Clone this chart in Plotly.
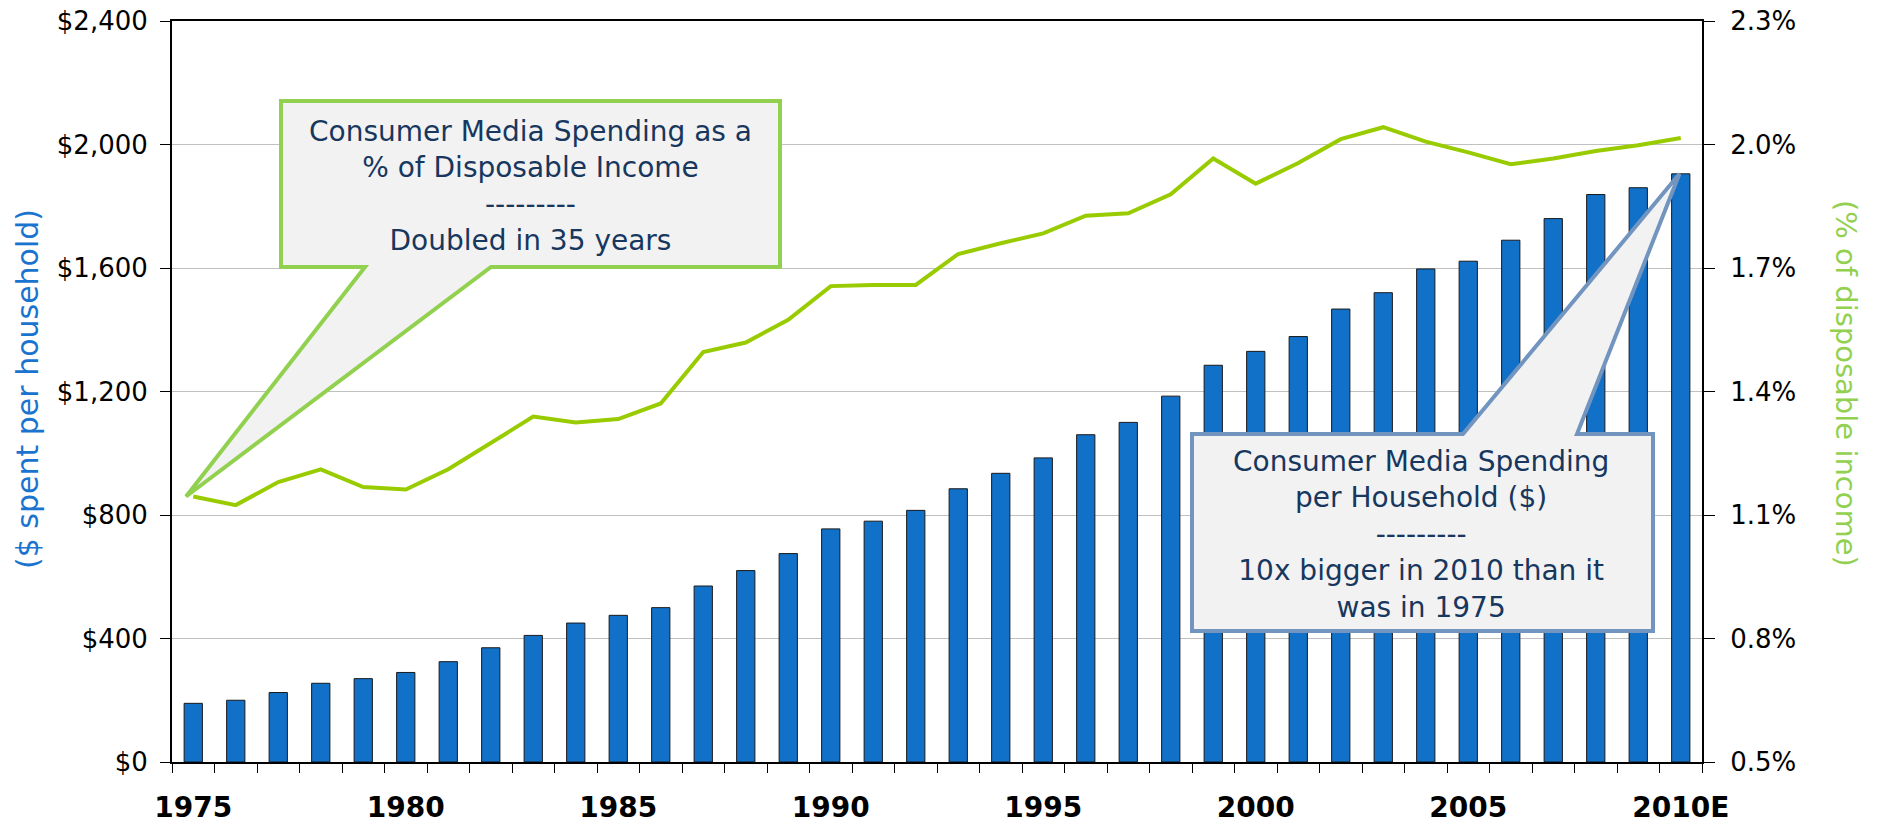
import plotly.graph_objects as go

# ---------------- data ----------------
YEARS = list(range(1975, 2011))
SPEND = [190, 200, 225, 255, 270, 290, 325, 370, 410, 450,
         475, 500, 570, 620, 675, 755, 780, 815, 885, 935,
         985, 1060, 1100, 1185, 1285, 1330, 1378, 1467, 1520, 1597,
         1622, 1690, 1760, 1838, 1860, 1905]
PCT = [1.145, 1.124, 1.180, 1.211, 1.168, 1.162, 1.211, 1.275, 1.339, 1.325,
       1.333, 1.371, 1.496, 1.519, 1.574, 1.656, 1.659, 1.659, 1.734, 1.760,
       1.784, 1.827, 1.833, 1.879, 1.966, 1.905, 1.955, 2.013, 2.042, 2.007,
       1.981, 1.952, 1.966, 1.984, 1.998, 2.016]
TICK_YEARS = [1975, 1980, 1985, 1990, 1995, 2000, 2005, 2010]
TICK_TEXT = ["1975", "1980", "1985", "1990", "1995", "2000", "2005", "2010E"]

GREEN_TEXT = "Consumer Media Spending as a<br>% of Disposable Income<br>---------<br>Doubled in 35 years"
BLUE_TEXT = ("Consumer Media Spending<br>per Household ($)<br>---------<br>"
             "10x bigger in 2010 than it<br>was in 1975")

# ---------------- geometry ----------------
W, H = 1877, 823
L, R, T, B = 172, 1702, 21, 762
PW, PH = R - L, B - T
Y1 = (0, 2400)
Y2 = (0.5, 2.3)
XR = (1974.5, 2010.5)

def px_x(px):
    return (px - L) / PW

def px_y(py):
    return (B - py) / PH

def yr(px):
    return XR[0] + (px - L) / PW * (XR[1] - XR[0])

def dol(py):
    return (B - py) / PH * (Y1[1] - Y1[0])

def pct_to_dol(p):
    return (p - Y2[0]) / (Y2[1] - Y2[0]) * (Y1[1] - Y1[0])

FONT = "DejaVu Sans"
NAVY = "#17375E"
FILL = "#F2F2F2"
GREEN_BORDER = "#92D050"
BLUE_BORDER = "#7295C0"

fig = go.Figure()
fig.add_trace(go.Bar(
    x=YEARS, y=SPEND, width=0.43,
    marker=dict(color="#1170C8", line=dict(color="#1a1a1a", width=1)),
    yaxis="y", showlegend=False,
))
fig.add_trace(go.Scatter(
    x=YEARS, y=PCT, mode="lines",
    line=dict(color="#99CC00", width=4),
    yaxis="y2", showlegend=False,
))

# ---------------- callouts ----------------
gx1, gx2, gy1, gy2 = 281, 780, 101, 267
gbl, gbr = 365, 491
tipg_x, tipg_y = YEARS[0] - 0.17, pct_to_dol(PCT[0])
path_g = (f"M {yr(gx1)},{dol(gy1)} L {yr(gx2)},{dol(gy1)} L {yr(gx2)},{dol(gy2)} "
          f"L {yr(gbr)},{dol(gy2)} L {tipg_x},{tipg_y} L {yr(gbl)},{dol(gy2)} "
          f"L {yr(gx1)},{dol(gy2)} Z")
bx1, bx2, by1, by2 = 1192, 1653, 434, 631
bbl, bbr = 1463, 1577
tipb_x, tipb_y = YEARS[-1] - 0.03, SPEND[-1]
path_b = (f"M {yr(bx1)},{dol(by1)} L {yr(bbl)},{dol(by1)} L {tipb_x},{tipb_y} "
          f"L {yr(bbr)},{dol(by1)} L {yr(bx2)},{dol(by1)} L {yr(bx2)},{dol(by2)} "
          f"L {yr(bx1)},{dol(by2)} Z")

shapes = [
    dict(type="path", path=path_g, xref="x", yref="y", layer="above",
         fillcolor=FILL, line=dict(color=GREEN_BORDER, width=4)),
    dict(type="path", path=path_b, xref="x", yref="y", layer="above",
         fillcolor=FILL, line=dict(color=BLUE_BORDER, width=4)),
]

annotations = [
    dict(text=GREEN_TEXT, xref="paper", yref="paper",
         x=px_x(530), y=px_y(186), xanchor="center", yanchor="middle",
         showarrow=False, align="center",
         font=dict(family=FONT, size=28, color=NAVY)),
    dict(text=BLUE_TEXT, xref="paper", yref="paper",
         x=px_x(1421), y=px_y(534), xanchor="center", yanchor="middle",
         showarrow=False, align="center",
         font=dict(family=FONT, size=28, color=NAVY)),
    dict(text="($ spent per household)", xref="paper", yref="paper",
         x=px_x(27), y=px_y(389), xanchor="center", yanchor="middle",
         textangle=-90, showarrow=False,
         font=dict(family=FONT, size=30, color="#1A73CF")),
    dict(text="(% of disposable income)", xref="paper", yref="paper",
         x=px_x(1846), y=px_y(383), xanchor="center", yanchor="middle",
         textangle=90, showarrow=False,
         font=dict(family=FONT, size=29, color="#92D050")),
]

fig.update_layout(
    width=W, height=H,
    margin=dict(l=L, r=W - R, t=T, b=H - B, pad=0, autoexpand=False),
    paper_bgcolor="white", plot_bgcolor="white",
    shapes=shapes, annotations=annotations,
    xaxis=dict(
        range=list(XR), tickmode="array", tickvals=TICK_YEARS, ticktext=TICK_TEXT,
        ticks="", showgrid=False, zeroline=False, automargin=False,
        showline=True, linecolor="black", linewidth=2, mirror=True,
        tickfont=dict(family=FONT, size=28, color="black", weight="bold"),
        ticklabelstandoff=19,
        minor=dict(tick0=1974.5, dtick=1, ticks="outside", ticklen=9,
                   tickcolor="black", tickwidth=1, showgrid=False),
    ),
    yaxis=dict(
        range=list(Y1), dtick=400, tick0=0, tickprefix="$", tickformat=",",
        showgrid=True, gridcolor="#C0C0C0", gridwidth=1, zeroline=False,
        automargin=False,
        showline=True, linecolor="black", linewidth=2,
        ticks="outside", ticklen=10, tickcolor="black", tickwidth=1,
        tickfont=dict(family=FONT, size=26, color="black"),
        ticklabelstandoff=7,
    ),
    yaxis2=dict(
        range=list(Y2), dtick=0.3, tick0=0.5, ticksuffix="%", tickformat=".1f",
        overlaying="y", side="right", showgrid=False, zeroline=False,
        automargin=False,
        showline=True, linecolor="black", linewidth=2,
        ticks="outside", ticklen=11, tickcolor="black", tickwidth=1,
        tickfont=dict(family=FONT, size=26, color="black"),
        ticklabelstandoff=10,
    ),
    yaxis3=dict(
        range=list(Y2), dtick=0.3, tick0=0.5,
        overlaying="y", side="right", showgrid=False, zeroline=False,
        automargin=False, showline=False, showticklabels=False,
        ticks="inside", ticklen=10, tickcolor="black", tickwidth=1,
    ),
)

fig.write_html("out.html")
